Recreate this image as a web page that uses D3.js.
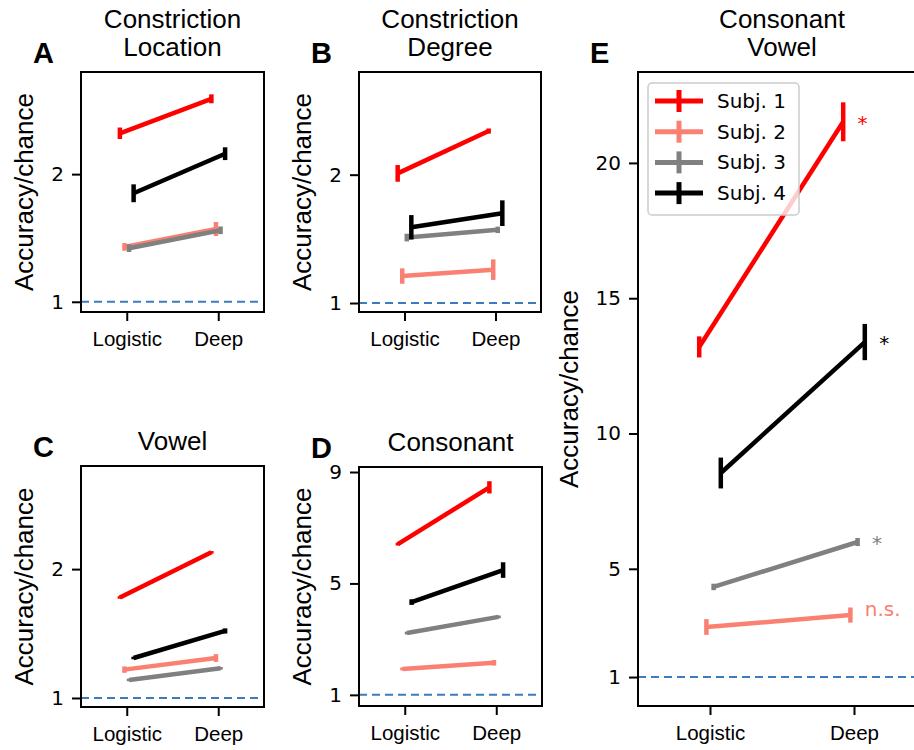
<!DOCTYPE html>
<html>
<head>
<meta charset="utf-8">
<script src="https://cdn.jsdelivr.net/npm/d3@7"></script>
<style>
  body { margin: 0; background: #fff; }
  svg { display: block; }
</style>
</head>
<body>
<div id="chart"></div>
<script>
var W = 914, H = 750;

var categories = ["Logistic", "Deep"];
var subjects = ["Subj. 1", "Subj. 2", "Subj. 3", "Subj. 4"];
var colors = ["#ff0000", "#fa8072", "#808080", "#000000"];
var offsets = [-0.075, -0.025, 0.025, 0.075];

// [logistic, deep] per subject
var locMean = [[2.32, 2.59], [1.43, 1.57], [1.42, 1.56], [1.85, 2.16]];
var locErr = [[0.045, 0.035], [0.03, 0.055], [0.03, 0.03], [0.07, 0.05]];

var degMean = [[2.01, 2.34], [1.21, 1.26], [1.51, 1.57], [1.59, 1.70]];
var degErr = [[0.065, 0.02], [0.06, 0.08], [0.03, 0.025], [0.095, 0.1]];

var vowMean = [[1.78, 2.13], [1.22, 1.31], [1.14, 1.23], [1.31, 1.52]];
var vowErr = [[0.01, 0.01], [0.025, 0.03], [0.01, 0.01], [0.01, 0.02]];

var conMean = [[6.41, 8.45], [1.93, 2.15], [3.22, 3.80], [4.33, 5.48]];
var conErr = [[0.05, 0.22], [0.05, 0.1], [0.05, 0.05], [0.1, 0.28]];

var cvMean = [[13.2, 21.52], [2.85, 3.29], [4.33, 5.99], [8.54, 13.38]];
var cvErr = [[0.39, 0.72], [0.29, 0.28], [0.12, 0.15], [0.57, 0.67]];
var cvSig = ["*", "n.s.", "*", "*"];

var ticksABC = [1, 2];
var ticksD = [1, 5, 9];
var ticksE = [1, 5, 10, 15, 20];

var LABEL_FONT = "'Liberation Sans', Arial, sans-serif";
var NUM_FONT = "'DejaVu Sans', sans-serif";

var svg = d3.select("#chart").append("svg")
    .attr("width", W)
    .attr("height", H);

var panels = [
    { letter: "A", title: ["Constriction", "Location"], box: [81, 72, 264, 312], mean: locMean, err: locErr, domain: [0.92, 2.8], ticks: ticksABC },
    { letter: "B", title: ["Constriction", "Degree"], box: [359, 72, 541, 312], mean: degMean, err: degErr, domain: [0.93, 2.8], ticks: ticksABC },
    { letter: "C", title: ["Vowel"], box: [81, 466, 264, 707], mean: vowMean, err: vowErr, domain: [0.93, 2.8], ticks: ticksABC },
    { letter: "D", title: ["Consonant"], box: [359, 467, 542, 706], mean: conMean, err: conErr, domain: [0.6, 9.18], ticks: ticksD },
    { letter: "E", title: ["Consonant", "Vowel"], box: [638, 72, 926, 706], mean: cvMean, err: cvErr, domain: [-0.07, 23.36], ticks: ticksE, sig: cvSig, legend: true }
];

panels.forEach(function (p) {
    var x0 = p.box[0], y0 = p.box[1], x1 = p.box[2], y1 = p.box[3];
    var x = d3.scaleLinear().domain([-0.5, 1.5]).range([x0, x1]);
    var y = d3.scaleLinear().domain(p.domain).range([y1, y0]);
    var g = svg.append("g");

    // chance line
    g.append("line")
        .attr("x1", x0).attr("x2", Math.min(x1, W))
        .attr("y1", y(1)).attr("y2", y(1))
        .attr("stroke", "#3b7bbf")
        .attr("stroke-width", 2)
        .attr("stroke-dasharray", "8,5");

    // lines + error bars
    p.mean.forEach(function (vals, s) {
        var pts = vals.map(function (v, i) { return [x(i + offsets[s]), y(v)]; });
        g.append("path")
            .attr("d", d3.line()(pts))
            .attr("fill", "none")
            .attr("stroke", colors[s])
            .attr("stroke-width", 4.5);
        vals.forEach(function (v, i) {
            g.append("line")
                .attr("x1", x(i + offsets[s])).attr("x2", x(i + offsets[s]))
                .attr("y1", y(v - p.err[s][i])).attr("y2", y(v + p.err[s][i]))
                .attr("stroke", colors[s])
                .attr("stroke-width", 4.5);
        });
        if (p.sig) {
            var isStar = p.sig[s] === "*";
            g.append("text")
                .attr("x", x(1 + offsets[s] + 0.1))
                .attr("y", y(vals[1]) + (isStar ? 8 : 1))
                .attr("fill", colors[s])
                .style("font-family", NUM_FONT)
                .style("font-size", "20px")
                .text(p.sig[s]);
        }
    });

    // frame
    g.append("rect")
        .attr("x", x0).attr("y", y0)
        .attr("width", x1 - x0).attr("height", y1 - y0)
        .attr("fill", "none")
        .attr("stroke", "#000")
        .attr("stroke-width", 2);

    // axes
    var ya = g.append("g")
        .attr("transform", "translate(" + x0 + ",0)")
        .call(d3.axisLeft(y).tickValues(p.ticks).tickSize(9).tickPadding(8).tickFormat(d3.format("d")));
    ya.select(".domain").remove();
    ya.selectAll(".tick line").attr("stroke-width", 2);
    ya.selectAll("text").style("font-family", NUM_FONT).style("font-size", "20px").attr("fill", "#000");

    var xa = g.append("g")
        .attr("transform", "translate(0," + y1 + ")")
        .call(d3.axisBottom(x).tickValues([0, 1]).tickSize(9).tickPadding(10).tickFormat(function (d) { return categories[d]; }));
    xa.select(".domain").remove();
    xa.selectAll(".tick line").attr("stroke-width", 2);
    xa.selectAll("text").style("font-family", LABEL_FONT).style("font-size", "20.5px").attr("fill", "#000");

    // y label
    var tw = d3.max(ya.selectAll("text").nodes(), function (n) { return n.getBBox().width; });
    var lx = x0 - 35 - tw;
    g.append("text")
        .attr("transform", "translate(" + lx + "," + ((y0 + y1) / 2) + ") rotate(-90)")
        .attr("text-anchor", "middle")
        .style("font-family", LABEL_FONT)
        .style("font-size", "26px")
        .text("Accuracy/chance");

    // title
    var cx = (x0 + x1) / 2;
    var n = p.title.length;
    p.title.forEach(function (t, i) {
        g.append("text")
            .attr("x", cx)
            .attr("y", y0 - 16 - (n - 1 - i) * 28)
            .attr("text-anchor", "middle")
            .style("font-family", LABEL_FONT)
            .style("font-size", "26px")
            .text(t);
    });

    // panel letter
    g.append("text")
        .attr("x", x0 - 48)
        .attr("y", y0 - 9)
        .style("font-family", LABEL_FONT)
        .style("font-weight", "bold")
        .style("font-size", "29px")
        .text(p.letter);

    if (p.legend) {
        var lg = g.append("g").attr("transform", "translate(" + (x0 + 10) + "," + (y0 + 11) + ")");
        lg.append("rect")
            .attr("width", 151).attr("height", 132)
            .attr("rx", 4)
            .attr("fill", "#fff").attr("fill-opacity", 0.8)
            .attr("stroke", "#cccccc").attr("stroke-width", 1.5);
        subjects.forEach(function (name, s) {
            var ry = 18 + s * 30.7;
            lg.append("line")
                .attr("x1", 7).attr("x2", 55)
                .attr("y1", ry).attr("y2", ry)
                .attr("stroke", colors[s]).attr("stroke-width", 5);
            lg.append("line")
                .attr("x1", 31).attr("x2", 31)
                .attr("y1", ry - 11).attr("y2", ry + 11)
                .attr("stroke", colors[s]).attr("stroke-width", 5);
            lg.append("text")
                .attr("x", 69).attr("y", ry + 7)
                .style("font-family", NUM_FONT)
                .style("font-size", "20px")
                .text(name);
        });
    }
});
</script>
</body>
</html>
